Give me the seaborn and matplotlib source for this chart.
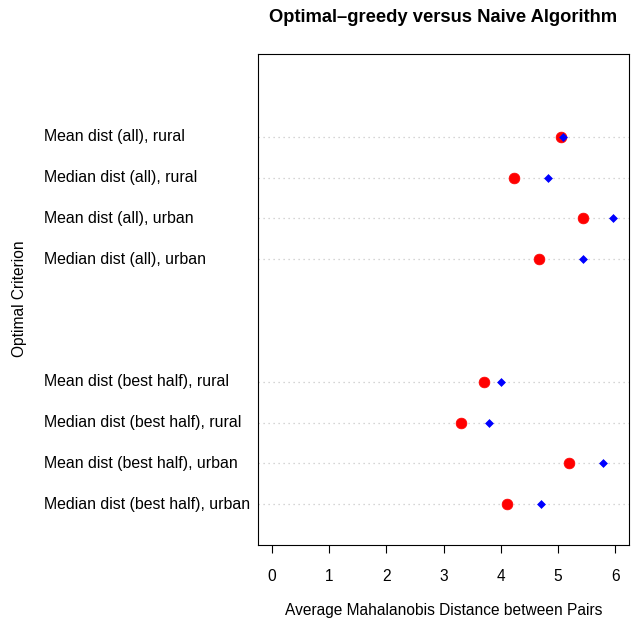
import numpy as np
import pandas as pd
import matplotlib
matplotlib.use('Agg')
import matplotlib.pyplot as plt
import matplotlib.transforms as mtransforms
import seaborn as sns

# Data
criteria = ['Mean dist (all), rural', 'Median dist (all), rural',
            'Mean dist (all), urban', 'Median dist (all), urban',
            'Mean dist (best half), rural', 'Median dist (best half), rural',
            'Mean dist (best half), urban', 'Median dist (best half), urban']
row_pos = [10, 9, 8, 7, 4, 3, 2, 1]  # two empty rows between groups
optimal_greedy = [5.06, 4.23, 5.44, 4.67, 3.71, 3.31, 5.20, 4.11]
naive = [5.09, 4.83, 5.96, 5.44, 4.01, 3.80, 5.79, 4.71]
x_ticks = [0, 1, 2, 3, 4, 5, 6]

df = pd.DataFrame({'criterion': criteria, 'pos': row_pos,
                   'optimal': optimal_greedy, 'naive': naive})

sns.set_style('white')
plt.rcParams['font.family'] = ['Liberation Sans', 'DejaVu Sans']
plt.rcParams['text.color'] = 'black'
plt.rcParams['axes.labelcolor'] = 'black'
plt.rcParams['xtick.color'] = 'black'

fig = plt.figure(figsize=(6.33, 6.19), dpi=100)
ax = fig.add_axes([258 / 633, 1 - 545 / 619, (629 - 258) / 633, (545 - 54) / 619])

for p in df['pos']:
    ax.axhline(p, color='#c8c8c8', linestyle=(0, (1, 3)), linewidth=0.9, zorder=0)

sns.scatterplot(data=df, x='optimal', y='pos', ax=ax, color='red', marker='o',
                s=60, edgecolor='red', linewidth=0.5, zorder=3)
sns.scatterplot(data=df, x='naive', y='pos', ax=ax, color='blue', marker='D',
                s=16, edgecolor='blue', linewidth=0.5, zorder=4)

ax.set_xlim(-0.24, 6.24)
ax.set_ylim(0, 12.03)
ax.set_xticks(x_ticks)
ax.set_xticklabels([str(t) for t in x_ticks], fontsize=11.2)
ax.tick_params(axis='x', direction='out', length=6, width=0.8, pad=11, color='black',
               bottom=True)
ax.set_yticks([])
ax.set_xlabel('Average Mahalanobis Distance between Pairs', fontsize=11.2, labelpad=14)
ax.set_ylabel('')
for s in ax.spines.values():
    s.set_visible(True)
    s.set_color('black')
    s.set_linewidth(0.8)

trans = mtransforms.blended_transform_factory(fig.transFigure, ax.transData)
for lab, p in zip(df['criterion'], df['pos']):
    ax.text(44 / 633, p, lab, transform=trans, ha='left', va='center', fontsize=11.4)

fig.text(20 / 633, 1 - 299 / 619, 'Optimal Criterion', rotation=90,
         ha='center', va='center', fontsize=11.2)
fig.text(443 / 633, 1 - 18 / 619, 'Optimal\u2013greedy versus Naive Algorithm',
         ha='center', va='center', fontsize=13.2, fontweight='bold')

fig.savefig('out.png', dpi=100)
